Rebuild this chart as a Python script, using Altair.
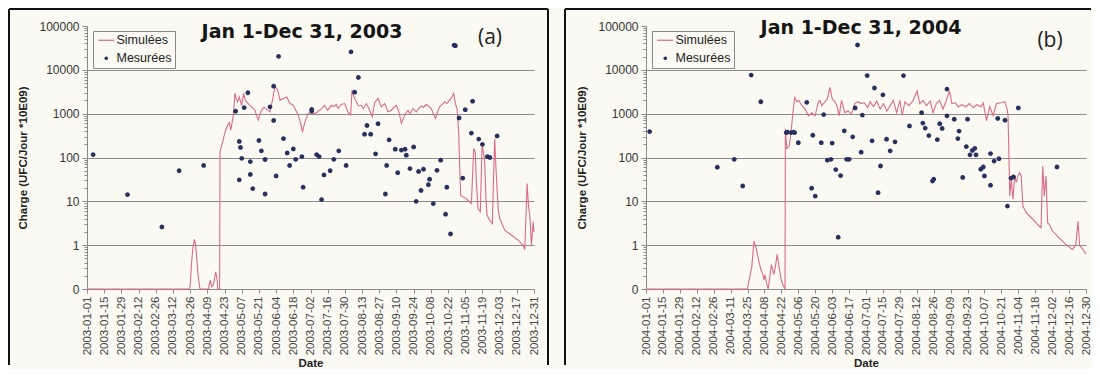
import altair as alt
import pandas as pd
import numpy as np

# ---------------- data ----------------
YEAR_A = 2003
YEAR_B = 2004
TITLE_A = "Jan 1-Dec 31, 2003"
TITLE_B = "Jan 1-Dec 31, 2004"
TAG_A = "(a)"
TAG_B = "(b)"
SERIES = ["Simulées", "Mesurées"]

# day offset from Jan 1 / daily load
SIM_A_DAYS = [0, 83, 84, 85.2, 86.3, 87.4, 88.3, 89.3, 90.5, 92, 99, 99.6, 100.5, 101.5, 103, 104.8,
              105.8, 106.5, 108, 108.3, 109.7, 111, 112.4, 114.5, 115.9, 117, 118, 119.2, 120.5, 121.5,
              122.7, 124, 125.9, 127.6, 129, 130, 132, 134, 136.8, 138, 139.5, 141, 142.2, 144, 146.3,
              149, 151, 153, 155.3, 157.2, 159.9, 162.6, 165.3, 168, 170, 172, 174, 175.4, 177.5, 180,
              182, 185, 188, 189.4, 191, 193.5, 196, 199, 201, 203, 204.4, 207, 209.8, 212.4, 214.7,
              215.8, 217, 219.3, 221, 223.4, 225, 227.5, 230.2, 232.3, 234.3, 237, 239.7, 242.4, 245,
              247.8, 250, 251.9, 254, 256, 258.7, 261.4, 263, 265.5, 268.2, 270, 272.3, 274, 276.3, 278,
              280.4, 282, 283.9, 285.5, 287.2, 289, 291.3, 293, 295.3, 297, 298.6, 299.5, 300.2, 301.3,
              302.7, 303.5, 304.3, 306.2, 308, 310.2, 313, 314, 314.9, 316.2, 317, 318.4, 320.3, 321.7,
              323, 323.8, 325, 325.8, 327.9, 330.1, 331.2, 332, 333, 333.9, 335, 336.1, 340.2, 345.6,
              351, 355.1, 356.5, 357.5, 358.4, 359.5, 360.6, 361.9, 363.3, 364]
SIM_A_VALS = [0, 0, 0.05, 0.62, 0.95, 1.35, 1.1, 0.73, 0.3, 0, 0, 0.12, 0.2, 0.05, 0.1, 0.39,
              0.25, 0, 0, 135, 190, 260, 380, 545, 630, 420, 600, 930, 2900, 2200,
              1860, 2400, 1550, 2900, 2000, 1860, 1600, 1430, 1200, 900, 710, 1000, 1200, 1400, 1250,
              1100, 2000, 4240, 3440, 2040, 2230, 2400, 1700, 1550, 1200, 930, 600, 380, 650, 1000,
              1050, 1000, 1100, 1200, 1300, 1550, 1200, 1550, 1450, 1620, 1310, 1620, 1700, 1100, 930,
              3440, 2600, 1860, 1500, 1550, 1300, 1700, 1200, 850, 1800, 2230, 1430, 1700, 1100,
              1200, 1400, 1550, 1100, 600, 930, 1200, 1000, 1310, 1100, 1300, 1500, 1400, 1620, 1500,
              1310, 1000, 780, 1100, 1430, 1600, 1860, 1700, 2040, 2300, 2900, 2000, 1620, 1310,
              380, 60, 13.8, 12.6, 12, 10.6, 8.9, 40, 160, 135, 30, 6.8, 5.75, 190,
              120, 79, 10, 4.8, 3.7, 3.1, 50, 270, 60, 19.5, 6, 4.05, 2.2, 1.7,
              1.3, 1.0, 0.9, 5, 25.5, 8, 4.8, 1.0, 3.4, 2.0]

MES_A_DAYS = [5, 33, 61, 75, 95, 121, 124, 124, 125, 126, 128, 131, 133, 133, 135, 140, 142, 145, 145,
              149, 152, 152, 154, 156, 160, 163, 165, 168, 170, 175, 176, 183, 183, 187, 189, 191, 193,
              198, 201, 205, 211, 215, 218, 221, 226, 228, 231, 235, 237, 243, 244, 246, 251, 253, 256,
              259, 260, 263, 266, 268, 270, 272, 274, 278, 279, 282, 285, 288, 292, 293, 296, 299, 300,
              303, 306, 308, 313, 314, 319, 322, 326, 328, 334]
MES_A_VALS = [117, 14.3, 2.6, 50, 66, 1140, 31, 232, 170, 96, 1380, 3000, 81, 41, 19.6, 245, 142, 90, 14.7,
              1430, 4240, 700, 38, 20400, 270, 127, 66, 157, 91, 105, 21, 1250, 1150, 117, 105, 11, 40,
              50, 91, 142, 66, 25700, 3100, 6700, 340, 537, 340, 121, 590, 14.7, 66, 253, 155, 45, 148,
              155, 113, 56, 174, 10, 48, 17.7, 54, 24, 32, 8.9, 51, 87, 5.1, 21, 1.8, 36500, 35500,
              800, 34, 1230, 360, 1930, 263, 200, 105, 100, 310]

SIM_B_DAYS = [0, 83.9, 86, 87.5, 89.3, 91, 93.4, 95, 96.7, 97.5, 98.4, 100, 101.1, 102.5, 103.8, 105.7,
              107, 108.5, 110.4, 112, 113.1, 115, 115.3, 116.5, 118.6, 120, 121.3, 123, 124.9, 126.5,
              129, 131.7, 134.4, 137.2, 139.9, 142.6, 144, 145.4, 148.1, 150, 152.2, 154.1, 156.3, 158,
              159.8, 161.7, 164.5, 167.2, 170, 172.7, 175.4, 177.9, 180.6, 183.3, 185.5, 188.2, 190.9,
              193.7, 196.5, 199.2, 201.9, 204.6, 207.4, 210.1, 212, 214.2, 217.5, 221, 224.3, 226.5,
              229.2, 231.9, 235.2, 237.4, 240.2, 242.9, 245.6, 248.4, 251.1, 253, 255.7, 258.5, 261.2,
              264.7, 267.5, 270.8, 273.5, 277.1, 279, 281.7, 284.4, 287.2, 289.9, 294, 296.8, 298.7,
              299.5, 300.3, 300.9, 302.2, 303.6, 305, 306.3, 307.7, 309, 310.4, 311.8, 314.5, 320,
              325.4, 326.8, 328.2, 329.5, 330.9, 332.3, 333.6, 336.3, 341.8, 347.3, 352.7, 355.5,
              357.4, 358.7, 361.5, 364]
SIM_B_VALS = [0, 0, 0.3, 0.5, 1.23, 0.95, 0.63, 0.45, 0.33, 0.2, 0.33, 0.1, 0, 0.3, 0.56, 0.33,
              0.5, 0.79, 0.45, 0.2, 0.1, 0, 450, 160, 185, 390, 895, 2340, 1870, 2000,
              1520, 1270, 895, 1050, 895, 1870, 2000, 1520, 1870, 2150, 3980, 2150, 1870, 1520,
              895, 2000, 1050, 1150, 980, 1700, 1870, 1700, 1770, 1380, 1870, 1440, 1930,
              1270, 1700, 1150, 1520, 2000, 1050, 2000, 920, 1870, 1520, 2000, 3320, 1700,
              2000, 1520, 1930, 1050, 1700, 2000, 1270, 2000, 3320, 1700, 1770, 1440, 1600,
              1440, 1700, 1380, 1600, 1440, 1770, 690, 1440, 895, 1700, 1770, 1870, 1270,
              895, 91, 13.2, 32, 11.2, 38, 27, 38, 45, 38, 7.8, 5.5, 3.9,
              2.7, 2.5, 64, 13, 38, 3.2, 3.0, 2.1, 1.47, 1.04, 0.9, 1.0,
              3.5, 1.0, 0.9, 0.8]

MES_B_DAYS = [3, 59, 73, 80, 87, 95, 116, 117, 120, 122, 123, 126, 133, 137, 138, 140, 145, 147, 150,
              153, 154, 157, 159, 161, 164, 166, 168, 171, 173, 175, 178, 179, 183, 187, 189, 192, 194,
              196, 199, 202, 206, 213, 218, 228, 229, 231, 234, 237, 238, 241, 243, 245, 249, 249, 255,
              258, 259, 262, 265, 266, 268, 270, 272, 273, 277, 279, 280, 285, 285, 288, 291, 292, 297,
              299, 302, 304, 308, 340]
MES_B_VALS = [390, 60, 91, 22.4, 7600, 1870, 370, 380, 370, 380, 370, 218, 1810, 20, 323, 13.2, 218, 955, 87,
              91, 213, 53, 1.52, 38.6, 405, 91, 91, 296, 1350, 37000, 132, 930, 7400, 240, 3850, 15.8, 64,
              2700, 262, 142, 228, 7400, 525, 1050, 610, 470, 316, 29, 32, 257, 590, 460, 3650, 895, 750,
              270, 400, 35, 178, 750, 115, 145, 162, 115, 54, 61, 38, 123, 23.4, 83, 780, 94, 710,
              7.8, 34, 36, 1350, 61]

X_TICKS_A = ["2003-01-01", "2003-01-15", "2003-01-29", "2003-02-12", "2003-02-26", "2003-03-12",
             "2003-03-26", "2003-04-09", "2003-04-23", "2003-05-07", "2003-05-21", "2003-06-04",
             "2003-06-18", "2003-07-02", "2003-07-16", "2003-07-30", "2003-08-13", "2003-08-27",
             "2003-09-10", "2003-09-24", "2003-10-08", "2003-10-22", "2003-11-05", "2003-11-19",
             "2003-12-03", "2003-12-17", "2003-12-31"]
X_TICKS_B = ["2004-01-01", "2004-01-15", "2004-01-29", "2004-02-12", "2004-02-26", "2004-03-11",
             "2004-03-25", "2004-04-08", "2004-04-22", "2004-05-06", "2004-05-20", "2004-06-03",
             "2004-06-17", "2004-07-01", "2004-07-15", "2004-07-29", "2004-08-12", "2004-08-26",
             "2004-09-09", "2004-09-23", "2004-10-07", "2004-10-21", "2004-11-04", "2004-11-18",
             "2004-12-02", "2004-12-16", "2004-12-30"]
Y_TICK_LABELS = ["0", "1", "10", "100", "1000", "10000", "100000"]

# ---------------- styling ----------------
BG = "#fafaf3"
PINK = "#db6b88"
NAVY = "#27305e"
GRID = "#8a8a8a"
H = 263
LINE_PATH = "M-1.6,-0.12H1.6V0.12H-1.6Z"
DOT_PATH = "M-0.36,0A0.36,0.36,0,1,1,0.36,0A0.36,0.36,0,1,1,-0.36,0Z"


def to_dates(year, days):
    base = pd.Timestamp(f"{year}-01-01")
    ts = base + pd.to_timedelta(np.asarray(days, dtype=float), unit="D")
    return [t.strftime("%Y-%m-%dT%H:%M:%SZ") for t in ts]


def dt(s):
    y, m, d = (int(p) for p in s.split("-"))
    return alt.DateTime(year=y, month=m, date=d, utc=True)


major = list(range(len(Y_TICK_LABELS)))
minor = [d + float(np.log10(k)) for d in range(len(Y_TICK_LABELS) - 1) for k in range(2, 10)]
label_expr = ("datum.value % 1 == 0 ? " + str(Y_TICK_LABELS) + "[datum.value] : ''")


def panel(year, sim_days, sim_vals, mes_days, mes_vals, ticks, title, tag,
          width, frame_left, frame_right, frame_top_end, title_y, tag_x, tag_y):
    sim = pd.DataFrame({"date": to_dates(year, sim_days), "v": sim_vals, "serie": SERIES[0]})
    mes = pd.DataFrame({"date": to_dates(year, mes_days), "v": mes_vals, "serie": SERIES[1]})

    x = alt.X("date:T",
              scale=alt.Scale(type="utc", domain=[dt(ticks[0]), dt(ticks[-1])], nice=False),
              axis=alt.Axis(values=[dt(t) for t in ticks], format="%Y-%m-%d", labelAngle=-90,
                            labelFontSize=11.5, labelFont="Liberation Sans", labelColor="#444",
                            labelPadding=3, tickSize=4, tickColor=GRID, domainColor=GRID,
                            grid=False, labelOverlap=False, labelFlush=False,
                            title="Date", titleFont="Liberation Sans", titleFontSize=11.5,
                            titleFontWeight="bold", titleColor="#222", titleY=74,
                            titleBaseline="middle"))
    y = alt.Y("t:Q",
              scale=alt.Scale(domain=[0, 6], nice=False, zero=False),
              axis=alt.Axis(values=major + minor, labelExpr=label_expr, labelFontSize=12,
                            labelFont="Liberation Sans", labelColor="#333", labelPadding=3,
                            tickColor=GRID, domainColor=GRID,
                            tickSize={"condition": {"test": "datum.value % 1 == 0", "value": 5},
                                      "value": 3},
                            grid=True, gridColor=GRID,
                            gridOpacity={"condition": {"test": "datum.value % 1 == 0 && datum.value >= 1 && datum.value <= 5",
                                                       "value": 1}, "value": 0},
                            title="Charge (UFC/Jour *10E09)", titleFont="Liberation Sans",
                            titleFontSize=11.5, titleFontWeight="bold", titleColor="#222",
                            titleX=-64, titleY=H / 2, titleBaseline="middle", titleAngle=-90))
    calc = "datum.v < 1 ? datum.v : 1 + log(datum.v) / LN10"
    legend = alt.Legend(title=None, orient="none", legendX=6, legendY=5, direction="vertical",
                        strokeColor="#888", fillColor=BG, padding=3, symbolSize=100,
                        symbolOffset=4, labelOffset=4, labelFontSize=12.5,
                        labelFont="Liberation Sans", labelColor="#222", rowPadding=5,
                        symbolStrokeWidth=0)
    color = alt.Color("serie:N", scale=alt.Scale(domain=SERIES, range=[PINK, NAVY]), legend=legend)
    shape = alt.Shape("serie:N", scale=alt.Scale(domain=SERIES, range=[LINE_PATH, DOT_PATH]), legend=legend)

    line = alt.Chart(sim).transform_calculate(t=calc).mark_line(strokeWidth=1.1).encode(
        x=x, y=y, color=color)
    pts = alt.Chart(mes).transform_calculate(t=calc).mark_point(
        filled=True, size=175, opacity=1, strokeWidth=0).encode(x=x, y=y, color=color, shape=shape)

    one = pd.DataFrame({"k": [0]})
    fr = alt.Chart(one).mark_rule(color="#111", strokeWidth=2)
    layers = [line, pts,
              fr.encode(x=alt.value(frame_left), y=alt.value(-17), y2=alt.value(339)),
              fr.encode(x=alt.value(frame_left), x2=alt.value(frame_top_end), y=alt.value(-17))]
    if frame_right is not None:
        layers.append(fr.encode(x=alt.value(frame_right), y=alt.value(-17), y2=alt.value(339)))

    ttl = alt.Chart(pd.DataFrame({"label": [title]})).mark_text(
        font="DejaVu Sans", fontWeight="bold", fontSize=19, color="#151515",
        align="center", baseline="middle").encode(
        x=alt.value(215), y=alt.value(title_y), text="label:N")
    tg = alt.Chart(pd.DataFrame({"label": [tag]})).mark_text(
        font="Open Sans", fontSize=21, color="#222", align="center", baseline="middle").encode(
        x=alt.value(tag_x), y=alt.value(tag_y), text="label:N")
    layers += [ttl, tg]

    return alt.layer(*layers).resolve_scale(
        color="shared", shape="shared").properties(width=width, height=H)


pa = panel(YEAR_A, SIM_A_DAYS, SIM_A_VALS, MES_A_DAYS, MES_A_VALS, X_TICKS_A, TITLE_A, TAG_A,
           447, -78, 461, 461, 6, 403, 12)
pb = panel(YEAR_B, SIM_B_DAYS, SIM_B_VALS, MES_B_DAYS, MES_B_VALS, X_TICKS_B, TITLE_B, TAG_B,
           440, -81, None, 445, 2, 404, 15)

chart = alt.hconcat(pa, pb, spacing=15).resolve_scale(
    x="independent", y="independent", color="independent", shape="independent").resolve_legend(
    color="independent", shape="independent").properties(
    padding=0, background=BG).configure_view(stroke=None)

chart.save("out.html", embed_options={"renderer": "svg", "actions": False})
